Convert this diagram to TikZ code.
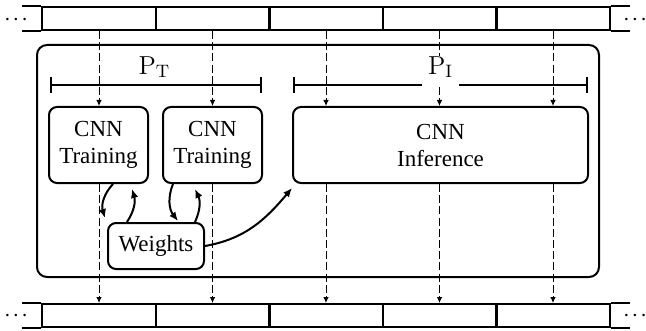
\documentclass[tikz,border=0pt]{standalone}
\usepackage{fontspec}
\setmainfont{Liberation Serif}
\newfontfamily\lmr{Latin Modern Roman}
\usetikzlibrary{arrows.meta,calc}
\newcommand{\psub}[1]{{\lmr P\raisebox{-1.5pt}{\fontsize{9}{9}\selectfont #1}}}
\newcommand{\mydots}{$\mathord{\cdot}\mkern1.5mu\mathord{\cdot}\mkern1.5mu\mathord{\cdot}$}
\begin{document}
\begin{tikzpicture}[x=0.5pt,y=-0.5pt,
  txt/.style={font=\fontsize{11.5}{13.5}\selectfont},
  box/.style={draw,line width=1pt,rounded corners=4pt,align=center,inner sep=0pt,txt},
  cell/.style={draw,line width=1pt,minimum width=57pt,minimum height=11.5pt,inner sep=0pt},
  flow/.style={line width=0.5pt,dash pattern=on 4pt off 1.6pt,-{Latex[length=3pt,width=2.8pt]}},
  wt/.style={line width=1pt,-{Latex[length=4.5pt,width=3.8pt]}},
  brk/.style={line width=1pt,{Bar[width=8pt]}-{Bar[width=8pt]}},
  lbl/.style={inner sep=1.5pt,font=\fontsize{13}{15}\selectfont},
  dots/.style={inner sep=0pt,anchor=base,font=\fontsize{13}{15}\selectfont}
]
\useasboundingbox (0,0) rectangle (646,331);
% strips
\foreach \i/\x in {1/99,2/212.5,3/326,4/439.5,5/553}{
  \node[cell] (t\i) at (\x,18.5) {};
  \node[cell] (b\i) at (\x,315.5) {};
}
\draw[line width=1pt] (t1.north west) -- ++(-19,0) (t1.south west) -- ++(-19,0)
  (t5.north east) -- ++(19,0) (t5.south east) -- ++(19,0);
\draw[line width=1pt] (b1.north west) -- ++(-19,0) (b1.south west) -- ++(-19,0)
  (b5.north east) -- ++(19,0) (b5.south east) -- ++(19,0);
\node[dots] (ld1) at (16,25.5) {\mydots};
\node[dots] (rd1) at (635,25.5) {\mydots};
\node[dots] (ld2) at (16,321.5) {\mydots};
\node[dots] (rd2) at (635,321.5) {\mydots};
% outer frame
\draw[line width=1pt,rounded corners=5pt] (37,45) rectangle (599,277);
% brackets
\draw[brk] (50,85) -- (262,85);
\draw[brk] (293,85) -- (588,85);
% boxes
\node[box,minimum width=49.5pt,minimum height=38pt] (tr1) at (98.5,145) {CNN\\Training};
\node[box,minimum width=49.5pt,minimum height=38pt] (tr2) at (212.5,145) {CNN\\Training};
\node[box,minimum width=147.5pt,minimum height=38pt] (inf) at (440.5,145) {CNN\\Inference};
\node[box,minimum width=48pt,minimum height=23pt] (w) at (156,246) {Weights};
% dashed flows
\draw[flow] (t1.south) -- (t1.south |- tr1.north);
\draw[flow] (t2.south) -- (t2.south |- tr2.north);
\draw[flow] (t1.south |- tr1.south) -- (b1.north);
\draw[flow] (t2.south |- tr2.south) -- (b2.north);
\foreach \i in {3,4,5}{
  \draw[flow] (t\i.south) -- (t\i.south |- inf.north);
  \draw[flow] (t\i.south |- inf.south) -- (b\i.north);
}
% labels
\node[lbl,anchor=base] (pt) at (154,75) {\psub{T}};
\node[lbl,anchor=south,fill=white,minimum width=18.5pt,minimum height=15pt] (pi) at (440.5,86) {};
\node[lbl,anchor=base] (pitext) at (440,75) {\psub{I}};
% weight arrows
\draw[wt] ([xshift=7.25pt]tr1.south) to[bend right=30] ([shift={(-1pt,2pt)}]w.north west);
\draw[wt] ([xshift=-14.5pt]w.north) to[bend right=25] ([shift={(16.75pt,-2.5pt)}]tr1.south);
\draw[wt] ([xshift=-19.75pt]tr2.south) to[bend right=30] ([shift={(11pt,0.5pt)}]w.north);
\draw[wt] ([xshift=19.5pt]w.north) to[bend right=25] ([shift={(-8.75pt,-2.5pt)}]tr2.south);
\draw[wt] (w.east) to[out=10,in=-130] ([shift={(0pt,-2pt)}]inf.south west);
\end{tikzpicture}
\end{document}
